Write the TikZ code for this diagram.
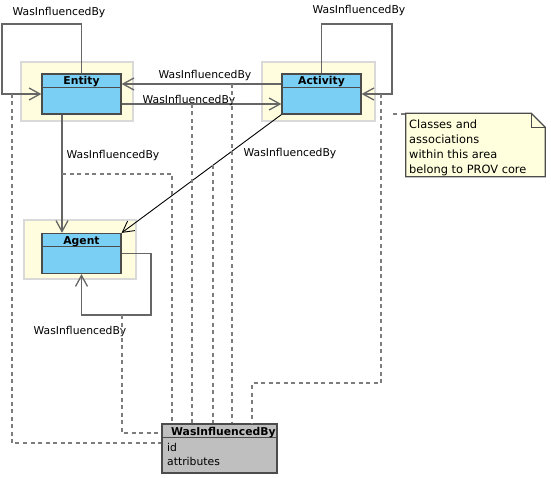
\documentclass[tikz,border=0pt]{standalone}
\usepackage{fontspec}
\setmainfont{DejaVu Sans}
\usetikzlibrary{arrows.meta, calc}
\definecolor{clsblue}{RGB}{122,207,245}
\definecolor{corebg}{RGB}{255,253,222}
\definecolor{notebg}{RGB}{255,255,221}
\definecolor{assocgray}{RGB}{102,102,102}
\definecolor{linkgray}{RGB}{125,125,125}
\definecolor{boxgray}{RGB}{191,191,191}

\begin{document}
\begin{tikzpicture}[x=1pt,y=-1pt,font=\fontsize{10.8}{13}\selectfont,
  core/.style={draw=black!15,line width=1.5pt,fill=corebg},
  cls/.style={draw=black!70,line width=1.2pt,fill=clsblue,minimum width=79pt,minimum height=40pt,inner sep=0pt},
  assoc/.style={draw=assocgray,line width=1.3pt},
  into/.style={-{Straight Barb[length=11pt,width=12pt]}},
  link/.style={draw=linkgray,line width=1.3pt,dash pattern=on 4pt off 3.5pt},
  clsname/.style={anchor=base,font=\fontsize{10.8}{13}\selectfont\bfseries,inner sep=0pt}]
  \useasboundingbox (0,0) rectangle (551,478);
  \path[core] (21,62) rectangle (133,121) (262,62) rectangle (375,121) (24,220) rectangle (136,279);
  \path (81.5,94) node[cls] (ent) {} (321.5,94) node[cls] (act) {} (81.5,253.5) node[cls] (agt) {};
  \path (219.5,448.5) node[draw=black!70,line width=1.2pt,fill=boxgray,minimum width=115pt,minimum height=49pt,inner sep=0pt] (wib) {};
  \foreach \c in {ent,act,agt}
    \draw[black!70,line width=1.2pt] ([yshift=-14pt]\c.north west) -- ([yshift=-14pt]\c.north east);
  \draw[black!70,line width=1.2pt] ([yshift=-14pt]wib.north west) -- ([yshift=-14pt]wib.north east);
  \path ([yshift=-11.5pt]ent.north) node[clsname] (n0) {Entity}
  ([yshift=-11.5pt]act.north) node[clsname] (n1) {Activity}
  ([yshift=-11.5pt]agt.north) node[clsname] (n2) {Agent}
  (171,435) node[clsname,anchor=base west] (n3) {WasInfluencedBy}
  (167,451) node[anchor=base west,inner sep=0pt] (n4) {id}
  (167,465) node[anchor=base west,inner sep=0pt] (n5) {attributes};
  \draw[assoc,into] (ent.north) -- (81.5,24) -- (2,24) -- (2,94) -- (ent.west);
  \draw[assoc,into] (act.north) -- (321.5,24) -- (392,24) -- (392,94) -- (act.east);
  \draw[assoc,into] (agt.east) -| (151,315) -| (agt.south);
  \draw[assoc,into] ([yshift=10pt]act.west) -- ([yshift=10pt]ent.east);
  \draw[assoc,into] ([yshift=-10pt]ent.east) -- ([yshift=-10pt]act.west);
  \draw[assoc,into] ([xshift=-19.5pt]ent.south) -- ([xshift=-19.5pt]agt.north);
  \draw[black,line width=0.9pt,into] (act.south west) -- (agt.north east);
  \path (59,13) node (l0) {WasInfluencedBy} (359,11) node (l1) {WasInfluencedBy}
  (205,76) node (l2) {WasInfluencedBy} (189,101) node (l3) {WasInfluencedBy}
  (113,156) node (l4) {WasInfluencedBy} (290,154) node (l5) {WasInfluencedBy}
  (80,332) node (l6) {WasInfluencedBy};
  \coordinate (c0) at (12,94);
  \coordinate (c1) at (122,315);
  \coordinate (c2) at (62,174);
  \coordinate (c3) at (192,104);
  \coordinate (c4) at (213,165);
  \coordinate (c5) at (232,84);
  \coordinate (c6) at (381,94);
  \draw[link] (c0) |- ([yshift=5.5pt]wib.west);
  \draw[link] (c1) |- ([yshift=15.5pt]wib.west);
  \draw[link] (c2) -| ([xshift=-47.5pt]wib.north);
  \draw[link] (c3) -- ([xshift=-27.5pt]wib.north);
  \draw[link] (c4) -- ([xshift=-6.5pt]wib.north);
  \draw[link] (c5) -- ([xshift=12.5pt]wib.north);
  \draw[link] (c6) -- (381,383) -- (252,383) -- ([xshift=32.5pt]wib.north);
  \path (475.5,145) node[minimum width=139pt,minimum height=63pt,inner sep=0pt] (note) {};
  \path[draw=black!70,line width=1.2pt,fill=notebg] (note.north west) -- ([xshift=-14pt]note.north east)
    -- ([yshift=-14pt]note.north east) -- (note.south east) -- (note.south west) -- cycle;
  \draw[black!70,line width=1.2pt] ([xshift=-14pt]note.north east) |- ([yshift=-14pt]note.north east);
  \path (409,119.5) node[anchor=north west,align=left,inner sep=0pt,font=\fontsize{11.4}{15}\selectfont] (t0)
    {Classes and\\associations\\within this area\\belong to PROV core};
  \coordinate (c7) at (393,114);
  \draw[link] (c7) -- (c7 -| note.west);
\end{tikzpicture}
\end{document}
